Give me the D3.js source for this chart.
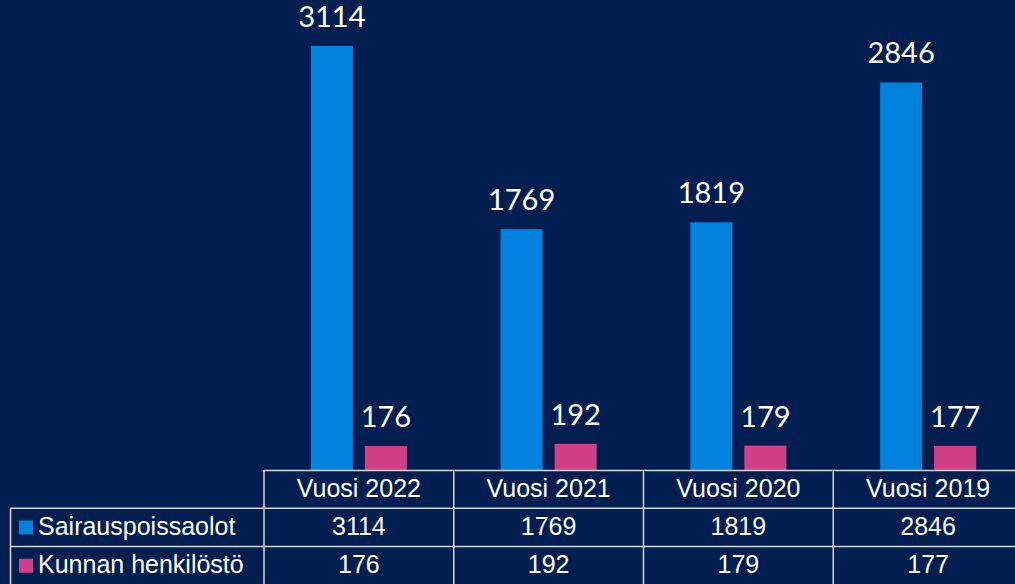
<!DOCTYPE html>
<html>
<head>
<meta charset="utf-8">
<script src="https://cdn.jsdelivr.net/npm/d3@7"></script>
<style>
  html, body { margin: 0; padding: 0; background: #001e50; overflow: hidden; }
  .bar-label { font-family: Lato, "Open Sans", sans-serif; font-size: 29px; fill: #fff; }
  .table-text { font-family: "Liberation Sans", Arial, sans-serif; font-size: 25px; fill: #fff; }
</style>
</head>
<body>
<svg id="chart"></svg>
<script>
const categories = ['Vuosi 2022', 'Vuosi 2021', 'Vuosi 2020', 'Vuosi 2019'];
const seriesNames = ['Sairauspoissaolot', 'Kunnan henkilöstö'];
const sairauspoissaolot = [3114, 1769, 1819, 2846];
const henkilosto = [176, 192, 179, 177];
const colors = ['#0082de', '#d13f86'];

const seriesValues = [sairauspoissaolot, henkilosto];

const config = {
  width: 1015,
  height: 584,
  plotLeft: 264,
  colWidth: 189.75,
  plotBottom: 470,
  plotTop: 46,
  rowHeight: 38.3,
  tableLeft: 10
};

const svg = d3.select('#chart')
  .attr('width', config.width)
  .attr('height', config.height);

svg.append('rect')
  .attr('width', config.width)
  .attr('height', config.height)
  .attr('fill', '#001e50');

// Scales
const xScale = d3.scaleBand()
  .domain(categories)
  .range([config.plotLeft, config.plotLeft + config.colWidth * categories.length])
  .padding(0);

const bw = xScale.bandwidth();
const xInner = d3.scaleBand()
  .domain(seriesNames)
  .range([(bw - 96) / 2, (bw + 96) / 2])
  .paddingInner(0.222)
  .paddingOuter(0);

const yScale = d3.scaleLinear()
  .domain([0, d3.max(sairauspoissaolot)])
  .range([config.plotBottom, config.plotTop]);

// Bars
const rows = [];
categories.forEach((c, i) => {
  seriesNames.forEach((s, j) => {
    rows.push({ cat: c, series: s, value: seriesValues[j][i], idx: j });
  });
});

const barG = svg.append('g');

barG.selectAll('rect')
  .data(rows)
  .join('rect')
  .attr('x', d => xScale(d.cat) + xInner(d.series))
  .attr('y', d => yScale(d.value))
  .attr('width', xInner.bandwidth())
  .attr('height', d => config.plotBottom - yScale(d.value))
  .attr('fill', d => colors[d.idx]);

barG.selectAll('text')
  .data(rows)
  .join('text')
  .attr('class', 'bar-label')
  .attr('x', d => xScale(d.cat) + xInner(d.series) + xInner.bandwidth() / 2)
  .attr('y', d => yScale(d.value) - 19)
  .attr('text-anchor', 'middle')
  .text(d => d.value);

// Data table
const tableG = svg.append('g');
const lineColor = '#d4d4d4';
const rh = config.rowHeight;
const tableTop = config.plotBottom;
const tableRight = xScale.range()[1];

// horizontal lines
tableG.append('line')
  .attr('x1', config.plotLeft).attr('x2', tableRight)
  .attr('y1', tableTop + 0.5).attr('y2', tableTop + 0.5);
[1, 2, 3].forEach(k => {
  tableG.append('line')
    .attr('x1', config.tableLeft).attr('x2', tableRight)
    .attr('y1', tableTop + rh * k).attr('y2', tableTop + rh * k);
});

// vertical lines
tableG.append('line')
  .attr('x1', config.tableLeft + 0.5).attr('x2', config.tableLeft + 0.5)
  .attr('y1', tableTop + rh).attr('y2', tableTop + rh * 3);
categories.forEach(c => {
  tableG.append('line')
    .attr('x1', xScale(c)).attr('x2', xScale(c))
    .attr('y1', tableTop).attr('y2', tableTop + rh * 3);
});

tableG.selectAll('line')
  .attr('stroke', lineColor)
  .attr('stroke-width', 1.5);

// header
tableG.selectAll('.hdr')
  .data(categories)
  .join('text')
  .attr('class', 'table-text hdr')
  .attr('x', d => xScale(d) + bw / 2)
  .attr('y', tableTop + rh / 2 + 7.5)
  .attr('text-anchor', 'middle')
  .text(d => d);

// row labels with legend keys
seriesNames.forEach((s, j) => {
  const ry = tableTop + rh * (j + 1);
  tableG.append('rect')
    .attr('x', 19)
    .attr('y', ry + rh / 2 - 7)
    .attr('width', 14)
    .attr('height', 14)
    .attr('fill', colors[j]);
  tableG.append('text')
    .attr('class', 'table-text')
    .attr('x', 38)
    .attr('y', ry + rh / 2 + 7.5)
    .text(s);
  tableG.selectAll('.cell' + j)
    .data(seriesValues[j])
    .join('text')
    .attr('class', 'table-text cell' + j)
    .attr('x', (d, i) => xScale(categories[i]) + bw / 2)
    .attr('y', ry + rh / 2 + 7.5)
    .attr('text-anchor', 'middle')
    .text(d => d);
});
</script>
</body>
</html>
